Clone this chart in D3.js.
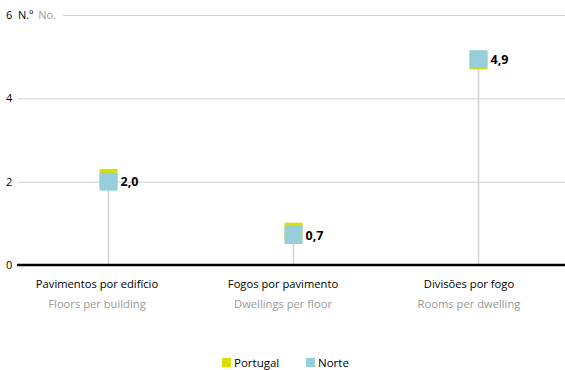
<!DOCTYPE html>
<html>
<head>
<meta charset="utf-8">
<script src="https://cdn.jsdelivr.net/npm/d3@7"></script>
<style>
  body { margin: 0; background: #fff; }
  svg { font-family: "Open Sans", sans-serif; }
</style>
</head>
<body>
<div id="chart"></div>
<script>
// categories (pt / en)
var categoriesPt = ["Pavimentos por edifício", "Fogos por pavimento", "Divisões por fogo"];
var categoriesEn = ["Floors per building", "Dwellings per floor", "Rooms per dwelling"];

// series values
var portugal = [2.09, 0.8, 4.91];
var norte = [2.0, 0.72, 4.94];
var norteLabels = ["2,0", "0,7", "4,9"];

var yTicks = [0, 2, 4, 6];

var width = 565, height = 370;
var size = 18;

var svg = d3.select("#chart").append("svg")
    .attr("width", width)
    .attr("height", height);

var x = d3.scaleBand()
    .domain(categoriesPt)
    .range([16, 571]);

// category labels sit slightly left of the markers
var xLabel = d3.scaleBand()
    .domain(categoriesPt)
    .range([4, 562]);

var y = d3.scaleLinear()
    .domain([0, 6])
    .range([265, 15]);

// gridlines
svg.append("g").selectAll("line")
    .data(yTicks.filter(function(d) { return d > 0; }))
    .enter().append("line")
    .attr("x1", function(d) { return d === 6 ? 63 : 18; })
    .attr("x2", width)
    .attr("y1", function(d) { return y(d) + 0.5; })
    .attr("y2", function(d) { return y(d) + 0.5; })
    .style("stroke", "#cfcfcf")
    .style("stroke-width", 1);

// tick labels
svg.append("g").selectAll("text")
    .data(yTicks)
    .enter().append("text")
    .attr("x", 6)
    .attr("y", function(d) { return y(d); })
    .attr("dy", "0.35em")
    .style("font-size", "11px")
    .style("fill", "#000")
    .text(function(d) { return d; });

var unit = svg.append("text")
    .attr("x", 18)
    .attr("y", y(6))
    .attr("dy", "0.35em")
    .style("font-size", "11px");
unit.append("tspan").style("fill", "#000").text("N.º");
unit.append("tspan").attr("dx", 5).style("fill", "#999").text("No.");

// drop lines
svg.append("g").selectAll("line")
    .data(norte)
    .enter().append("line")
    .attr("x1", function(d, i) { return x(categoriesPt[i]) + x.bandwidth() / 2; })
    .attr("x2", function(d, i) { return x(categoriesPt[i]) + x.bandwidth() / 2; })
    .attr("y1", y(0))
    .attr("y2", function(d) { return y(d); })
    .style("stroke", "#d0d0d0")
    .style("stroke-width", 1.5);

// zero axis
svg.append("line")
    .attr("x1", 17)
    .attr("x2", width)
    .attr("y1", y(0))
    .attr("y2", y(0))
    .style("stroke", "#000")
    .style("stroke-width", 2.5);

// markers
function markers(data, color) {
    svg.append("g").selectAll("rect")
        .data(data)
        .enter().append("rect")
        .attr("x", function(d, i) { return x(categoriesPt[i]) + x.bandwidth() / 2 - size / 2; })
        .attr("y", function(d) { return y(d) - size / 2; })
        .attr("width", size)
        .attr("height", size)
        .style("fill", color);
}
markers(portugal, "#d7e000");
markers(norte, "#96cfdb");

// value labels
svg.append("g").selectAll("text")
    .data(norte)
    .enter().append("text")
    .attr("x", function(d, i) { return x(categoriesPt[i]) + x.bandwidth() / 2 + size / 2 + 3; })
    .attr("y", function(d) { return y(d); })
    .attr("dy", "0.38em")
    .style("font-size", "12.5px")
    .style("font-weight", "bold")
    .style("fill", "#000")
    .text(function(d, i) { return norteLabels[i]; });

// category labels
var cat = svg.append("g").selectAll("g")
    .data(categoriesPt)
    .enter().append("g")
    .attr("transform", function(d) { return "translate(" + (xLabel(d) + xLabel.bandwidth() / 2) + ",0)"; });

cat.append("text")
    .attr("y", 288)
    .attr("text-anchor", "middle")
    .style("font-size", "11.2px")
    .style("fill", "#000")
    .text(function(d) { return d; });

cat.append("text")
    .attr("y", 308)
    .attr("text-anchor", "middle")
    .style("font-size", "11.2px")
    .style("fill", "#999")
    .text(function(d, i) { return categoriesEn[i]; });

// legend
var legendItems = [{name: "Portugal", color: "#d7e000", x: 222}, {name: "Norte", color: "#96cfdb", x: 306}];
var legend = svg.append("g").selectAll("g")
    .data(legendItems)
    .enter().append("g")
    .attr("transform", function(d) { return "translate(" + d.x + ",358)"; });

legend.append("rect")
    .attr("width", 9)
    .attr("height", 9)
    .style("fill", function(d) { return d.color; });

legend.append("text")
    .attr("x", 12)
    .attr("y", 4.5)
    .attr("dy", "0.35em")
    .style("font-size", "11.5px")
    .style("fill", "#000")
    .text(function(d) { return d.name; });
</script>
</body>
</html>
